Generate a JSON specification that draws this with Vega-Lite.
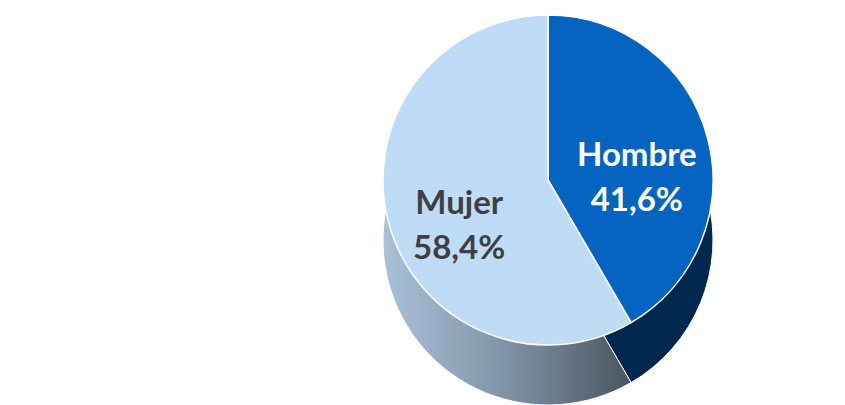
{
  "$schema": "https://vega.github.io/schema/vega-lite/v6.json",
  "autosize": "none",
  "width": 594,
  "height": 360,
  "padding": {"left": 251, "top": 0, "right": 0, "bottom": 45},
  "background": "white",
  "config": {"view": {"stroke": null}},
  "data": {
    "values": [
      {"genero": "Hombre", "pct": 41.6, "label": "Hombre\n41,6%"},
      {"genero": "Mujer", "pct": 58.4, "label": "Mujer\n58,4%"}
    ]
  },
  "encoding": {
    "theta": {"field": "pct", "type": "quantitative", "stack": true},
    "order": {"field": "genero"}
  },
  "layer": [
    {
      "mark": {"type": "arc", "outerRadius": 165, "yOffset": 60, "stroke": "white", "strokeWidth": 1},
      "encoding": {
        "fill": {
          "condition": {
            "test": "datum.genero === 'Mujer'",
            "value": {"gradient": "linear", "x1": 0, "x2": 1, "y1": 0, "y2": 0,
              "stops": [{"offset": 0, "color": "#a9c1d9"}, {"offset": 0.5, "color": "#7f93a6"}, {"offset": 1, "color": "#4a5661"}]}
          },
          "value": "#00284f"
        }
      }
    },
    {
      "mark": {"type": "arc", "outerRadius": 165, "stroke": "white", "strokeWidth": 1.5},
      "encoding": {
        "color": {
          "field": "genero",
          "type": "nominal",
          "scale": {"domain": ["Hombre", "Mujer"], "range": ["#0563c1", "#bfdcf7"]},
          "legend": null
        }
      }
    },
    {
      "mark": {"type": "text", "radius": 92, "font": "Lato", "fontWeight": "bold", "fontSize": 33, "lineBreak": "\n", "lineHeight": 45},
      "encoding": {
        "text": {"field": "label"},
        "fill": {
          "condition": {"test": "datum.genero === 'Hombre'", "value": "white"},
          "value": "#404040"
        }
      }
    }
  ]
}
